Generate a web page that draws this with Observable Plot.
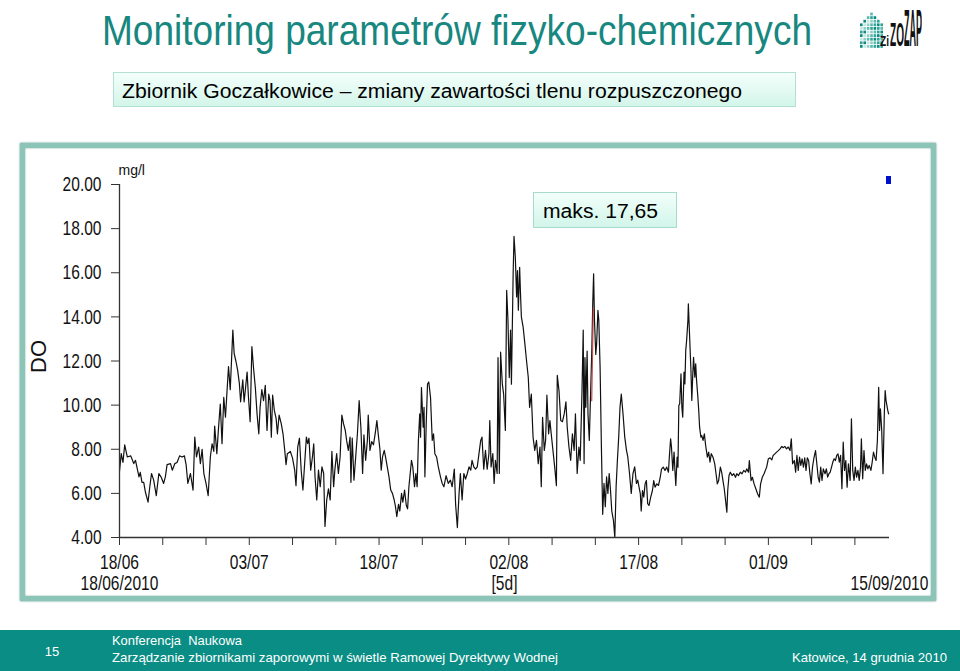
<!DOCTYPE html>
<html><head><meta charset="utf-8">
<script src="https://cdn.jsdelivr.net/npm/d3@7"></script>
<script src="https://cdn.jsdelivr.net/npm/@observablehq/plot@0.6"></script>
<style>
html,body{margin:0;padding:0;background:#fff;}
body{width:960px;height:671px;position:relative;overflow:hidden;font-family:"Liberation Sans",Arial,sans-serif;}
.abs{position:absolute;white-space:pre;line-height:1;}
#title{left:102px;top:9px;font-size:43px;color:#17877f;}
#subbox{position:absolute;left:113px;top:72px;width:683px;height:35px;box-sizing:border-box;border:1px solid #b3e0d5;background:linear-gradient(#f4fffb,#d3f5ea);}
#subtitle{left:122px;top:81px;font-size:20px;color:#000;}
#panel{position:absolute;left:20px;top:143px;width:916px;height:458px;box-sizing:border-box;border:5px solid #8cc4b8;box-shadow:0 0 2px #4f8f82, inset 0 0 2px #6aa598;background:#fff;}
#chart{position:absolute;left:20px;top:143px;}
#maxbox{position:absolute;left:533px;top:192px;width:144px;height:36px;box-sizing:border-box;border:1px solid #a6dccd;background:linear-gradient(#f2fffa,#d2f5ea);}
#maxtext{left:543px;top:201px;font-size:20px;color:#000;}
#marker{position:absolute;left:886px;top:176px;width:5px;height:8px;background:#0010d0;}
#footer{position:absolute;left:0;top:630px;width:960px;height:41px;background:#0a8d84;}
#pagenum{left:45px;top:645px;font-size:13px;color:#fff;}
#conf1{left:112px;top:634px;font-size:13px;color:#fff;}
#conf2{left:112px;top:651px;font-size:13px;color:#fff;}
#place{left:792px;top:651px;font-size:13px;color:#fff;}
#logo{position:absolute;left:856px;top:3px;}
.lg{font-size:20px;font-weight:bold;color:#111;transform-origin:0 0;}
</style></head>
<body>
<div id="title" class="abs">Monitoring parametrów fizyko-chemicznych</div>
<svg id="logo" width="34" height="46"></svg>
<div id="lg1" class="abs lg">Zi</div>
<div id="lg2" class="abs lg">ZO</div>
<div id="lg3" class="abs lg">ZAP</div>
<div id="subbox"></div>
<div id="subtitle" class="abs">Zbiornik Goczałkowice – zmiany zawartości tlenu rozpuszczonego</div>
<div id="panel"></div>
<div id="chart"></div>
<div id="maxbox"></div>
<div id="maxtext" class="abs">maks. 17,65</div>
<div id="marker"></div>
<div id="footer"></div>
<div id="pagenum" class="abs">15</div>
<div id="conf1" class="abs">Konferencja  Naukowa</div>
<div id="conf2" class="abs">Zarządzanie zbiornikami zaporowymi w świetle Ramowej Dyrektywy Wodnej</div>
<div id="place" class="abs">Katowice, 14 grudnia 2010</div>
<script>
// ---------- DATA ----------
const seriesStart = Date.UTC(2010, 5, 18); // 18/06/2010
const seriesEnd = Date.UTC(2010, 8, 15);   // 15/09/2010
// dissolved oxygen [day offset from 18/06/2010, mg/l]
const doSamples = [
[0,7.0],[0.2,7.8],[0.4,7.4],[0.6,8.2],[0.9,7.65],[1.3,7.7],[1.65,7.35],[1.85,7.5],[2.25,6.75],[2.4,6.95],
[2.6,6.5],[2.8,6.5],[3.0,6.05],[3.3,5.6],[3.5,6.3],[3.7,6.9],[3.95,6.6],[4.25,5.9],[4.55,6.9],[4.8,6.75],
[5.1,6.45],[5.3,6.75],[5.5,7.3],[5.9,7.35],[6.1,7.05],[6.4,7.35],[6.65,7.4],[6.95,7.7],[7.25,7.65],[7.5,7.7],
[7.7,7.3],[7.9,6.45],[8.2,6.9],[8.5,6.15],[8.7,8.55],[8.9,7.65],[9.15,8.1],[9.35,7.35],[9.55,8.0],[9.75,6.9],
[10.0,6.45],[10.25,5.9],[10.5,7.65],[10.7,8.25],[10.9,7.9],[11.0,9.05],[11.25,7.8],[11.45,9.0],[11.65,10.05],[11.85,8.25],
[12.05,10.35],[12.25,9.45],[12.4,10.45],[12.6,11.75],[12.8,10.7],[13.1,13.4],[13.25,12.35],[13.45,12.0],[13.65,11.6],[13.85,11.0],
[14.0,10.15],[14.25,11.15],[14.4,10.15],
[14.55,10.7],[14.75,11.5],[14.9,10.4],[15.1,9.25],[15.3,12.65],[15.5,11.65],[15.7,10.8],[15.9,9.6],[16.1,8.7],[16.25,9.9],
[16.45,10.7],[16.65,10.2],[16.85,10.9],[17.05,8.85],[17.25,10.5],[17.4,10.2],[17.55,8.55],[17.7,10.45],[17.9,9.75],[18.1,9.4],
[18.25,8.7],[18.45,9.55],[18.7,9.15],[18.9,8.7],[19.1,7.95],[19.25,7.3],[19.4,7.8],[19.75,7.9],[20.0,7.6],[20.25,7.05],
[20.4,6.35],[20.6,8.1],[20.8,8.5],[21.0,7.05],[21.2,6.15],[21.4,7.35],[21.6,8.55],[21.75,8.25],[21.9,8.5],[22.1,7.05],
[22.3,7.65],[22.45,8.25],[22.6,6.75],[22.8,5.7],[23.0,7.05],[23.2,6.3],[23.4,7.2],[23.6,6.9],[23.75,4.5],[23.95,5.7],
[24.15,6.2],[24.35,5.7],[24.55,7.9],[24.75,6.3],[24.9,7.1],[25.1,7.8],[25.3,6.9],[25.5,7.65],[25.7,9.55],[25.9,9.15],
[26.1,8.85],[26.25,8.4],[26.45,7.95],[26.65,8.55],[26.75,6.5],[26.9,8.5],[27.1,6.6],[27.3,7.65],[27.5,8.7],[27.7,10.2],
[27.9,9.0],[28.1,6.9],[28.25,8.65],[28.45,7.5],[28.65,8.4],[28.75,9.55],[28.95,7.95],[29.15,8.35],[29.35,8.2],[29.55,8.7],
[29.75,9.3],
[29.9,8.7],[30.1,8.0],[30.25,7.05],[30.4,7.65],[30.6,7.95],[30.75,7.65],[30.95,7.2],[31.15,6.75],[31.35,6.15],[31.55,6.0],
[31.75,5.7],[31.9,5.4],[32.05,4.95],[32.25,5.5],[32.4,5.2],[32.6,6.0],[32.75,5.6],[32.95,6.15],[33.15,5.45],[33.3,5.3],
[33.45,6.3],[33.6,6.9],[33.75,7.5],[33.9,7.2],[34.1,6.3],[34.25,6.9],[34.4,6.3],[34.55,8.4],[34.7,9.6],[34.8,8.55],
[34.9,10.8],[35.1,9.0],[35.2,9.9],[35.3,6.75],[35.45,9.15],[35.6,10.95],[35.75,11.05],[35.95,10.35],[36.15,8.4],[36.3,8.7],
[36.45,7.8],[36.65,7.65],[36.85,7.2],[37.1,6.75],[37.3,6.45],[37.5,6.3],[37.75,6.8],[38.0,6.45],[38.25,6.6],[38.45,6.3],
[38.7,7.1],[38.85,5.5],[39.05,4.45],[39.25,6.0],[39.4,6.9],[39.6,5.7],[39.8,6.9],[40.0,6.65],[40.2,6.9],[40.4,7.2],
[40.6,7.05],[40.75,7.5],[40.95,7.2],[41.15,7.1],[41.35,7.2],[41.55,7.8],[41.75,8.4],[41.9,8.55],[42.1,7.1],[42.3,7.95],
[42.5,7.1],[42.7,7.8],[42.8,9.3],[42.95,7.2],[43.15,7.8],[43.3,6.45],[43.45,7.5],[43.65,6.9],[43.75,12.15],[43.9,6.9],
[44.05,12.4],[44.25,10.95],[44.4,10.5],[44.6,8.85],
[44.75,15.2],[44.9,13.85],[45.05,11.25],[45.2,13.4],[45.3,10.95],[45.5,15.95],[45.6,17.65],[45.75,16.7],[45.9,14.9],[46.0,16.1],
[46.1,14.3],[46.25,16.25],[46.35,15.05],[46.45,14.0],[46.65,13.55],[46.85,12.8],[47.05,12.0],[47.25,11.25],[47.4,9.9],[47.6,10.5],
[47.8,8.55],[48.0,7.95],[48.2,8.4],[48.4,7.35],[48.6,8.1],[48.75,6.3],[48.9,9.45],[49.1,7.95],[49.25,8.4],[49.4,10.45],
[49.6,8.7],[49.75,9.3],[49.9,8.7],[50.1,7.95],[50.3,7.2],[50.5,6.35],[50.6,11.35],[50.8,10.65],[51.0,9.3],[51.2,9.25],
[51.4,9.6],[51.6,10.15],[51.75,9.0],[51.95,8.1],[52.15,7.5],[52.35,8.7],[52.55,7.95],[52.7,9.6],[52.9,6.9],[53.1,8.1],
[53.25,7.5],[53.45,10.5],[53.6,13.4],[53.7,7.35],[53.8,12.15],[53.9,9.9],[54.05,12.45],[54.15,9.6],[54.3,8.4],[54.45,10.5],
[54.6,12.6],[54.7,14.6],[54.8,15.95],[54.9,13.85],[55.05,12.3],[55.15,12.8],[55.3,14.3],[55.4,13.85],[55.55,11.7],[55.7,8.1],
[55.85,5.05],[56.0,6.45],[56.15,5.4],[56.3,6.75],[56.45,6.0],[56.6,6.9],[56.75,6.15],[56.9,5.2],[57.1,4.75],[57.25,4.0],
[57.4,6.3],[57.55,7.5],[57.7,8.55],[57.85,9.9],[58.0,10.5],[58.2,9.6],[58.4,8.55],[58.6,7.95],[58.75,7.65],[58.95,6.9],
[59.15,6.0],[59.35,6.9],[59.55,7.2],[59.75,6.45],[59.9,6.6],
[60.2,5.98],[60.3,5.2],[60.45,6.13],[60.6,5.83],[60.75,6.43],[60.9,6.58],[61.05,5.53],[61.2,5.45],[61.4,5.83],[61.6,6.13],
[61.75,6.58],[61.9,6.28],[62.1,6.43],[62.3,6.36],[62.5,6.73],[62.65,7.1],[62.85,7.19],[63.05,7.04],[63.25,7.19],[63.45,6.96],
[63.55,7.64],[63.7,8.47],[63.8,8.1],[63.95,7.04],[64.1,7.87],[64.2,7.04],[64.3,6.36],[64.45,7.64],[64.55,7.19],[64.65,9.98],
[64.75,10.06],[64.9,11.42],[65.0,9.91],[65.1,9.45],[65.25,11.5],[65.35,10.96],[65.45,12.48],[65.55,12.93],[65.7,13.84],[65.75,14.59],
[65.9,13.08],[66.05,11.57],[66.15,10.21],[66.25,11.27],[66.35,12.17],[66.5,11.27],[66.6,11.87],[66.7,11.12],[66.85,10.36],[66.95,9.76],
[67.05,9.0],[67.2,8.55],[67.3,8.62],[67.45,8.4],[67.6,8.7],[67.75,8.17],[67.95,7.64],[68.1,7.87],[68.25,7.42],[68.4,7.8],
[68.6,7.64],[68.8,7.34],[68.95,6.89],[69.1,6.43],[69.25,6.58],[69.45,7.19],[69.6,6.96],[69.75,6.58],[69.9,6.21],[70.05,5.68],
[70.2,5.15],[70.3,6.13],[70.45,6.81],[70.6,6.96],[70.8,6.81],[71.0,6.89],[71.2,6.73],[71.35,6.89],[71.55,6.81],[71.75,6.96],
[71.95,6.89],[72.15,7.04],[72.35,6.96],[72.5,7.11],[72.7,6.96],[72.8,7.49],[73.0,6.58],[73.15,6.73],[73.35,6.43],[73.55,6.21],
[73.75,5.98],[73.95,5.83],[74.1,6.43],[74.3,6.73],[74.5,6.89],
[74.8,7.19],[75.0,7.57],[75.2,7.61],[75.4,7.52],[75.55,7.72],[75.75,7.79],[75.95,7.87],[76.15,7.94],[76.35,8.02],[76.55,8.13],
[76.7,8.07],[76.9,8.13],[77.1,8.02],[77.3,8.1],[77.5,7.94],[77.65,8.47],[77.8,7.34],[78.0,7.49],[78.15,6.96],[78.3,7.72],
[78.45,7.04],[78.6,7.64],[78.75,7.27],[78.9,7.57],[79.05,7.19],[79.2,7.61],[79.35,7.04],[79.5,7.61],[79.65,7.49],[79.8,6.89],
[79.95,6.43],[80.1,7.19],[80.25,7.57],[80.45,7.94],[80.6,7.34],[80.75,6.74],[80.9,6.51],[81.05,7.19],[81.2,6.59],[81.35,7.11],
[81.55,6.89],[81.7,7.11],[81.85,6.74],[82.0,6.89],[82.15,6.96],[82.3,7.19],[82.45,7.42],[82.6,7.57],[82.75,7.49],[82.9,7.72],
[83.05,7.79],[83.2,7.42],[83.35,7.72],[83.5,6.21],[83.65,8.32],[83.8,7.04],[83.95,7.49],[84.1,6.28],[84.25,7.34],[84.45,6.59],
[84.6,9.38],[84.75,7.04],[84.9,6.59],[85.05,7.19],[85.2,6.74],[85.35,7.04],[85.5,6.59],[85.65,7.19],[85.75,8.47],[85.9,6.66],
[86.05,7.94],[86.2,7.04],[86.35,7.34],[86.5,7.11],[86.65,7.27],[86.85,7.04],[87.0,7.42],[87.15,7.87],[87.3,7.64],[87.45,7.49],
[87.6,8.4],[87.75,10.81],[87.85,8.85],[87.95,9.83],[88.1,8.85],[88.25,6.89],[88.4,9.6],[88.5,10.66],[88.6,10.21],[88.8,9.76],
[88.9,9.6]
];
// short highlighted (red) fragment
const redSamples = [[54.58,10.2],[54.77,14.4]];
const yTicks = [4, 6, 8, 10, 12, 14, 16, 18, 20];
const minorTickDays = [0,5,10,15,20,25,30,35,40,45,50,55,60,65,70,75,80,85];
const majorTickDays = [0,15,30,45,60,75];
const majorTickLabels = ["18/06","03/07","18/07","02/08","17/08","01/09"];
const rangeLabelDays = [0, 44.5, 89];
const rangeLabelTexts = ["18/06/2010","[5d]","15/09/2010"];
const yUnit = "mg/l";
const yName = "DO";

// ---------- BUILD ----------
const dayMs = 864e5;
const toDate = d => new Date(seriesStart + d * dayMs);
const doData = doSamples.map(([d, v]) => ({date: toDate(d), value: v}));
const redData = redSamples.map(([d, v]) => ({date: toDate(d), value: v}));
const labelMap = new Map(majorTickDays.map((d, i) => [+toDate(d), majorTickLabels[i]]));
const rangeLabels = rangeLabelDays.map((d, i) => ({date: toDate(d), text: rangeLabelTexts[i]}));

const chart = Plot.plot({
  width: 916, height: 458,
  marginLeft: 99, marginRight: 47, marginTop: 41, marginBottom: 64,
  style: {background: "transparent", fontFamily: "'Liberation Sans', Arial, sans-serif", color: "#111", overflow: "visible"},
  x: {type: "utc", domain: [new Date(seriesStart), new Date(seriesEnd)]},
  y: {domain: [4, 20]},
  marks: [
    Plot.line(doData, {x: "date", y: "value", stroke: "#111", strokeWidth: 1.2}),
    Plot.line(redData, {x: "date", y: "value", stroke: "#c0504d", strokeWidth: 1.2}),
    Plot.ruleX([new Date(seriesStart)], {stroke: "#333", strokeWidth: 1.3}),
    Plot.ruleY([4], {stroke: "#333", strokeWidth: 1.3}),
    Plot.axisY({ticks: yTicks, tickFormat: d => d.toFixed(2), tickSize: 8, tickPadding: 10, fontSize: 21, label: null, stroke: "#333"}),
    Plot.axisX({ticks: minorTickDays.map(toDate), tickFormat: d => labelMap.get(+d) ?? "", tickSize: 8, tickPadding: 9, fontSize: 21, label: null, stroke: "#333"}),
    Plot.text(rangeLabels, {x: "date", y: () => 4, text: "text", dy: 46, fontSize: 21, textAnchor: "middle", lineAnchor: "middle"}),
    Plot.text([yName], {frameAnchor: "left", rotate: -90, dx: -81, dy: 12, fontSize: 22}),
    Plot.text([yUnit], {frameAnchor: "top-left", textAnchor: "start", dx: -1, dy: -19, fontSize: 14})
  ]
});
document.getElementById("chart").appendChild(chart);

// condense axis-style labels (narrow typeface look)
const narrowTexts = new Set([...yTicks.map(d => d.toFixed(2)), ...majorTickLabels, ...rangeLabelTexts]);
chart.querySelectorAll("text").forEach(t => {
  if (!narrowTexts.has(t.textContent)) return;
  t.style.fontSize = "21px";
  t.removeAttribute("textLength");
  const w = t.getComputedTextLength();
  if (w > 0) { t.setAttribute("textLength", (w * 0.74).toFixed(1)); t.setAttribute("lengthAdjust", "spacingAndGlyphs"); }
});

// fit HTML texts to their widths in the slide
function fit(id, target, origin) {
  const el = document.getElementById(id);
  const w = el.getBoundingClientRect().width;
  el.style.transformOrigin = origin || "left center";
  el.style.transform = `scaleX(${target / w})`;
}
fit("title", 710);
fit("subtitle", 620);
fit("maxtext", 115);
fit("conf1", 130);
fit("conf2", 446);
const place = document.getElementById("place");
const pw = place.getBoundingClientRect().width;
place.style.left = (947 - pw) + "px";
fit("place", 155, "right center");
const pn = document.getElementById("pagenum");
pn.style.left = (52 - pn.getBoundingClientRect().width / 2) + "px";

// decorative logo: squares + stretched letters
const logo = d3.select("#logo");
const shades = ["#0f8a80", "#2fa398", "#5bb8ad", "#8fd0c6", "#c3e7e1"];
for (let r = 0; r < 11; r++) {
  for (let c = 0; c < 7; c++) {
    if (c + r < 4 || c > r + 2) continue;
    logo.append("rect").attr("x", 4 + c * 3.4).attr("y", 6 + r * 3.6).attr("width", 2.6).attr("height", 2.8)
      .attr("fill", shades[Math.min(4, Math.abs(6 - c - (r % 3)) % 5)]);
  }
}
function box(id, left, top, w, h) {
  const el = document.getElementById(id);
  const r = el.getBoundingClientRect();
  el.style.left = left + "px";
  el.style.top = top + "px";
  el.style.transform = `scale(${w / r.width}, ${h / r.height})`;
}
box("lg1", 880, 33, 9, 15);
box("lg2", 890, 18, 14, 33);
box("lg3", 904, 2, 18, 52);
</script>
</body></html>
